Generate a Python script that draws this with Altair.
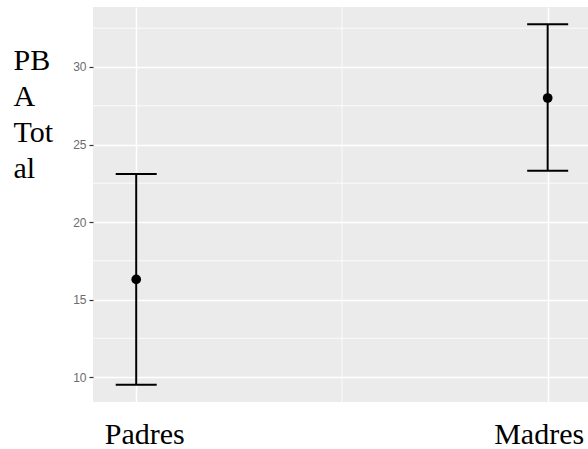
import altair as alt
import pandas as pd

groups = ["Padres", "Madres"]
means = [16.3, 28.0]
lowers = [9.5, 23.3]
uppers = [23.1, 32.75]
y_major = [10, 15, 20, 25, 30]
y_minor = [12.5, 17.5, 22.5, 27.5, 32.5]
x_minor = [1.5]

df = pd.DataFrame({
    "grupo": groups,
    "pos": [i + 1 for i in range(len(groups))],
    "media": means,
    "inf": lowers,
    "sup": uppers,
})

xdom = [0.895, 2.098]
ydom = [8.39, 33.87]

xscale = alt.Scale(domain=xdom, nice=False, zero=False)
yscale = alt.Scale(domain=ydom, nice=False, zero=False)

label_expr = "datum.value == 1 ? 'Padres' : (datum.value == 2 ? 'Madres' : '')"

base = alt.Chart(df)

main = base.mark_rule(color="black", strokeWidth=2).encode(
    x=alt.X("pos:Q", scale=xscale, axis=alt.Axis(
        values=[1, 2], labelExpr=label_expr, title=None,
        labelFont="Liberation Serif", labelFontSize=30, labelColor="black",
        labelBaseline="alphabetic", labelPadding=38, tickSize=3,
        tickColor="#ffffff", domain=False, grid=True, gridColor="white",
        gridWidth=1.5,
        labelOffset=alt.ConditionalAxisNumber(
            condition={"test": "datum.value == 1", "value": 8}, value=-9),
    )),
    y=alt.Y("inf:Q", scale=yscale, axis=alt.Axis(
        values=y_major, title=["PB", "A", "Tot", "al"],
        titleFont="Liberation Serif", titleFontSize=30, titleFontWeight="normal",
        titleColor="black", titleAngle=0, titleAlign="left",
        titleBaseline="alphabetic", titleX=-80, titleY=62, titleLineHeight=36.3,
        labelFont="Liberation Sans", labelFontSize=12, labelColor="#6b6b6b",
        labelPadding=3, tickSize=4, tickColor="#333333", tickWidth=1.2,
        domain=False, grid=True, gridColor="white", gridWidth=1.5,
    )),
    y2="sup:Q",
)

caps_low = base.mark_tick(orient="horizontal", size=41, thickness=2, color="black", opacity=1).encode(
    x=alt.X("pos:Q", scale=xscale), y=alt.Y("inf:Q", scale=yscale))
caps_up = base.mark_tick(orient="horizontal", size=41, thickness=2, color="black", opacity=1).encode(
    x=alt.X("pos:Q", scale=xscale), y=alt.Y("sup:Q", scale=yscale))
pts = base.mark_circle(size=95, color="black", opacity=1).encode(
    x=alt.X("pos:Q", scale=xscale), y=alt.Y("media:Q", scale=yscale))

hminor = alt.Chart(pd.DataFrame({"v": y_minor})).mark_rule(color="white", strokeWidth=0.8).encode(
    y=alt.Y("v:Q", scale=yscale))
vminor = alt.Chart(pd.DataFrame({"v": x_minor})).mark_rule(color="white", strokeWidth=0.8).encode(
    x=alt.X("v:Q", scale=xscale))

chart = alt.layer(hminor, vminor, main, caps_low, caps_up, pts).properties(
    width=495, height=395,
    autosize=alt.AutoSizeParams(type="none"),
    padding={"left": 93, "top": 7, "right": 0, "bottom": 47},
    background="white",
).configure_view(fill="#ebebeb", stroke=None)

chart.save("out.html", embed_options={"renderer": "svg", "actions": False})
